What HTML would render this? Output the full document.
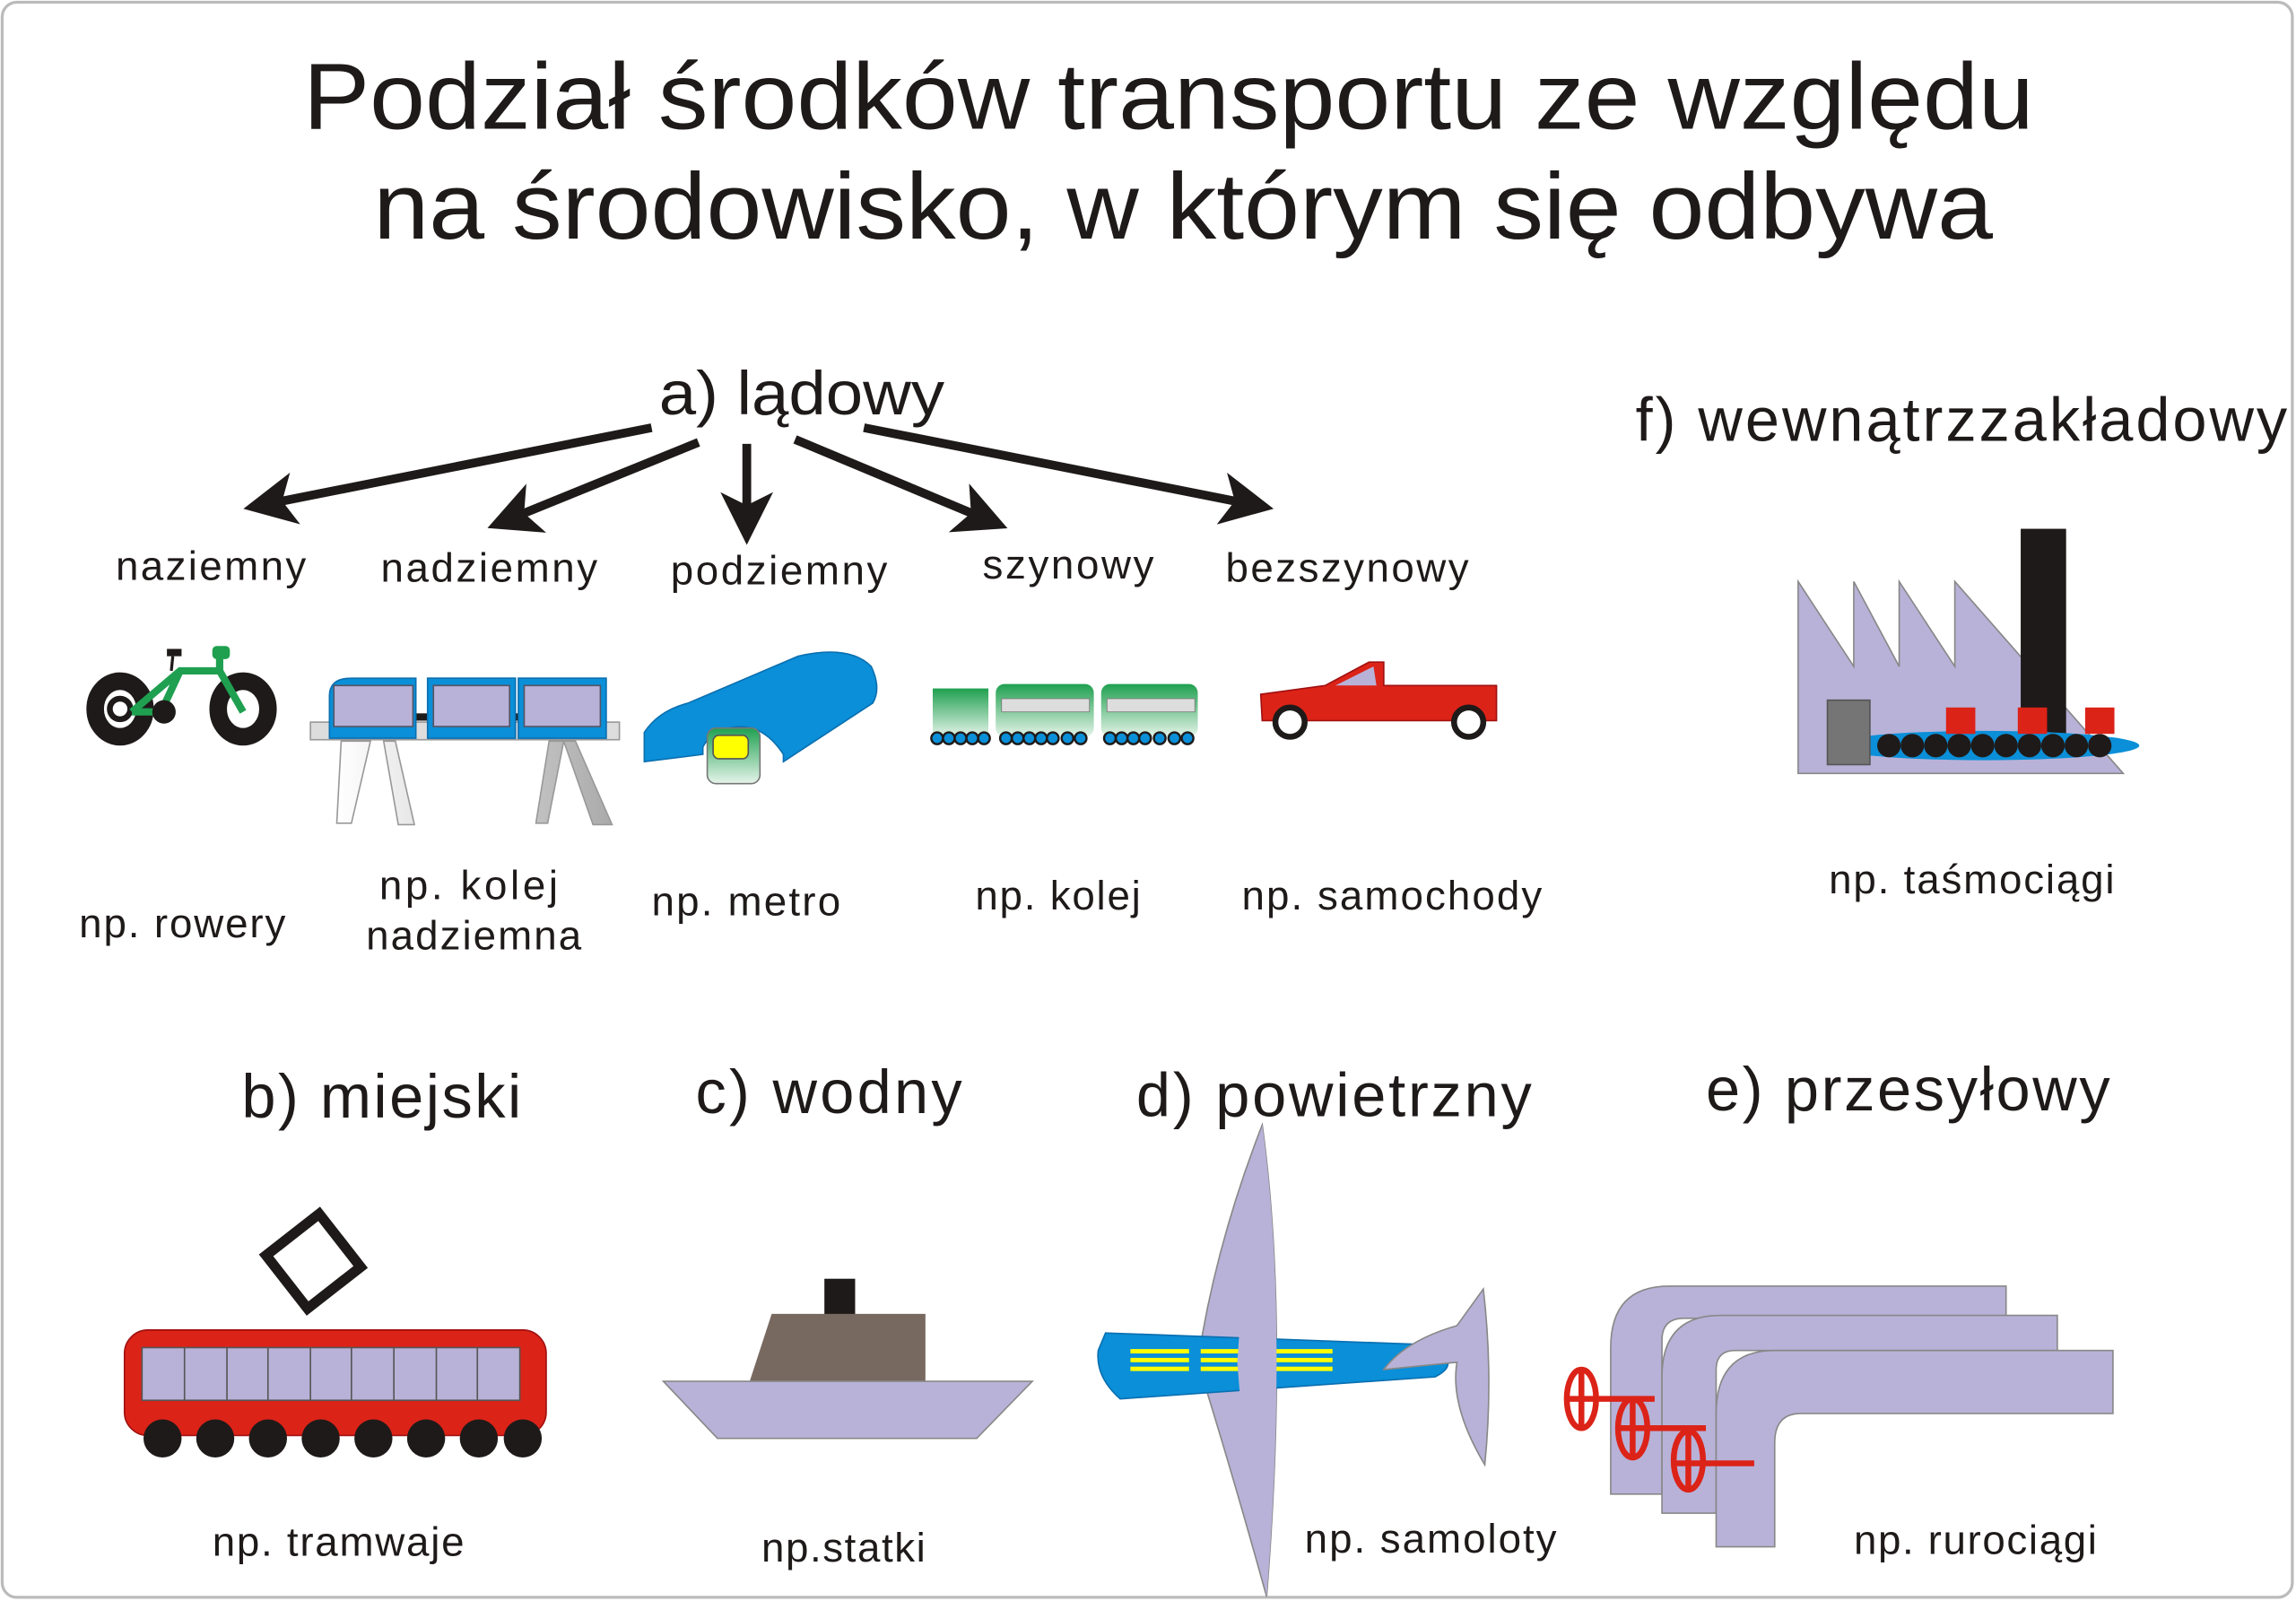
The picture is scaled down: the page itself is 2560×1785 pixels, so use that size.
<!DOCTYPE html>
<html><head><meta charset="utf-8"><style>
html,body{margin:0;padding:0;background:#fff;}
svg{display:block;}
text{font-family:"Liberation Sans",sans-serif;fill:#1e1a19;}
</style></head><body>
<svg width="2560" height="1785" viewBox="0 0 1568 1093" preserveAspectRatio="none" xmlns="http://www.w3.org/2000/svg">
<defs>
<marker id="ah" markerWidth="6" markerHeight="6" refX="4" refY="3" orient="auto" markerUnits="strokeWidth">
<path d="M0,0 L6,3 L0,6 L1.5,3 z" fill="#1e1a19"/></marker>
<linearGradient id="gr" x1="0" y1="0" x2="0" y2="1"><stop offset="0" stop-color="#1fa050"/><stop offset="1" stop-color="#e6f4ea"/></linearGradient>
<linearGradient id="leg" x1="0" y1="0" x2="1" y2="0"><stop offset="0" stop-color="#fff"/><stop offset="1" stop-color="#aaa"/></linearGradient>
</defs>
<rect x="1.5" y="1.5" width="1564" height="1089" rx="10" fill="#fff" stroke="#bbb" stroke-width="2"/>
<text x="798" y="88" font-size="64" text-anchor="middle" textLength="1182" lengthAdjust="spacingAndGlyphs">Podział środków transportu ze względu</text>
<text x="808" y="163" font-size="64" text-anchor="middle" textLength="1106" lengthAdjust="spacingAndGlyphs">na środowisko, w którym się odbywa</text>

<text x="450" y="283" font-size="42" textLength="195" lengthAdjust="spacingAndGlyphs">a) lądowy</text>
<g stroke="#1e1a19" stroke-width="6" marker-end="url(#ah)">
<line x1="445" y1="292" x2="178" y2="345"/>
<line x1="477" y1="302" x2="344" y2="356"/>
<line x1="510" y1="303" x2="510" y2="360"/>
<line x1="543" y1="300" x2="677" y2="356"/>
<line x1="590" y1="292" x2="858" y2="345"/>
</g>
<g font-size="28" lengthAdjust="spacingAndGlyphs">
<text x="79" y="396" textLength="130">naziemny</text>
<text x="260" y="397" textLength="148">nadziemny</text>
<text x="458" y="399" textLength="148">podziemny</text>
<text x="671" y="395" textLength="117">szynowy</text>
<text x="837" y="397" textLength="166">bezszynowy</text>
<text x="54" y="640" textLength="141">np. rowery</text>
<text x="259" y="614" textLength="122">np.  kolej</text>
<text x="250" y="648" textLength="147">nadziemna</text>
<text x="445" y="625" textLength="129">np. metro</text>
<text x="666" y="621" textLength="113">np. kolej</text>
<text x="848" y="621" textLength="205">np. samochody</text>
<text x="1249" y="610" textLength="195">np. taśmociągi</text>
<text x="145" y="1062" textLength="172">np. tramwaje</text>
<text x="520" y="1066" textLength="112">np.statki</text>
<text x="891" y="1060" textLength="172">np. samoloty</text>
<text x="1266" y="1061" textLength="166">np. rurociągi</text>
</g>
<g font-size="42" lengthAdjust="spacingAndGlyphs">
<text x="1117" y="301" textLength="445">f) wewnątrzzakładowy</text>
<text x="165" y="763" textLength="191">b) miejski</text>
<text x="475" y="760" textLength="182">c) wodny</text>
<text x="776" y="762" textLength="270">d) powietrzny</text>
<text x="1165" y="758" textLength="276">e) przesyłowy</text>
</g>

<!-- bicycle -->
<g>
<ellipse cx="82" cy="484" rx="17" ry="19" fill="none" stroke="#1e1a19" stroke-width="12"/>
<ellipse cx="166" cy="484" rx="17" ry="19" fill="none" stroke="#1e1a19" stroke-width="12"/>
<circle cx="82" cy="484" r="7" fill="none" stroke="#1e1a19" stroke-width="4"/>
<path d="M90,486 L123,458 L150,458 L166,486 M123,458 L110,486 L90,486 M150,458 L150,447" stroke="#1fa050" stroke-width="5" fill="none"/>
<rect x="145" y="441" width="12" height="9" rx="3" fill="#1fa050"/>
<rect x="114" y="443" width="10" height="5" fill="#1e1a19"/>
<line x1="118" y1="448" x2="117" y2="458" stroke="#1e1a19" stroke-width="2"/>
<circle cx="112" cy="486" r="8" fill="#1e1a19"/>
</g>
<!-- elevated train -->
<g>
<path d="M233,506 L253,506 L240,562 L230,562 Z M262,506 L270,506 L283,563 L272,563 Z M375,506 L385,506 L374,562 L366,562 Z M385,506 L393,506 L418,563 L405,563 Z" fill="url(#leg)" stroke="#999" stroke-width="1"/>
<rect x="212" y="493" width="211" height="12" fill="#ddd" stroke="#999"/>
<rect x="284" y="487" width="75" height="5" fill="#1e1a19"/>
<path d="M225,504 L225,475 Q225,463 240,463 L284,463 L284,504 Z" fill="#0a8fd8" stroke="#0a6fb0"/>
<rect x="228" y="468" width="54" height="28" fill="#b8b2d8" stroke="#556"/>
<rect x="292" y="463" width="60" height="41" fill="#0a8fd8" stroke="#0a6fb0"/>
<rect x="296" y="468" width="52" height="28" fill="#b8b2d8" stroke="#556"/>
<rect x="354" y="463" width="60" height="41" fill="#0a8fd8" stroke="#0a6fb0"/>
<rect x="358" y="468" width="52" height="28" fill="#b8b2d8" stroke="#556"/>
</g>
<!-- tunnel -->
<g>
<path d="M440,520 L440,500 Q450,485 470,480 L545,448 Q580,440 595,455 Q602,470 596,480 L535,520 L535,515 Q520,492 498,497 Q485,500 480,510 L480,515 Z" fill="#0a8fd8" stroke="#0a6fb0"/>
<rect x="483" y="497" width="36" height="38" rx="6" fill="url(#gr)" stroke="#777"/>
<rect x="487" y="502" width="24" height="16" rx="4" fill="#ff0" stroke="#555"/>
</g>
<!-- train -->
<g>
<rect x="637" y="470" width="38" height="33" fill="url(#gr)"/>
<rect x="680" y="467" width="67" height="36" rx="6" fill="url(#gr)"/>
<rect x="752" y="467" width="66" height="36" rx="6" fill="url(#gr)"/>
<g fill="#ddd" stroke="#777" stroke-width="0.5">
<rect x="684" y="477" width="60" height="9"/><rect x="756" y="477" width="60" height="9"/></g>
<g fill="#0a8fd8" stroke="#1e1a19" stroke-width="1.5">
<circle cx="640" cy="504" r="4"/><circle cx="648" cy="504" r="4"/><circle cx="656" cy="504" r="4"/><circle cx="664" cy="504" r="4"/><circle cx="672" cy="504" r="4"/>
<circle cx="687" cy="504" r="4"/><circle cx="695" cy="504" r="4"/><circle cx="703" cy="504" r="4"/><circle cx="711" cy="504" r="4"/><circle cx="719" cy="504" r="4"/><circle cx="729" cy="504" r="4"/><circle cx="738" cy="504" r="4"/>
<circle cx="758" cy="504" r="4"/><circle cx="766" cy="504" r="4"/><circle cx="774" cy="504" r="4"/><circle cx="782" cy="504" r="4"/><circle cx="792" cy="504" r="4"/><circle cx="802" cy="504" r="4"/><circle cx="811" cy="504" r="4"/></g>
</g>
<!-- car -->
<g>
<path d="M861,474 L905,468 L935,452 L945,452 L945,468 L1022,468 L1022,492 L862,492 Z" fill="#dc2318" stroke="#a01010"/>
<path d="M912,468 L938,455 L940,468 Z" fill="#b8b2d8"/>
<circle cx="881" cy="493" r="10" fill="#fff" stroke="#1e1a19" stroke-width="4"/>
<circle cx="1003" cy="493" r="10" fill="#fff" stroke="#1e1a19" stroke-width="4"/>
</g>
<!-- factory -->
<g>
<path d="M1228,397 L1266,455 L1266,397 L1297,455 L1297,397 L1335,455 L1335,397 L1450,528 L1228,528 Z" fill="#b8b2d8" stroke="#888"/>
<rect x="1380" y="361" width="31" height="155" fill="#1e1a19"/>
<ellipse cx="1355" cy="509" rx="106" ry="10" fill="#0a8fd8"/>
<g fill="#1e1a19">
<circle cx="1290" cy="509" r="8"/><circle cx="1306" cy="509" r="8"/><circle cx="1322" cy="509" r="8"/><circle cx="1338" cy="509" r="8"/><circle cx="1354" cy="509" r="8"/><circle cx="1370" cy="509" r="8"/><circle cx="1386" cy="509" r="8"/><circle cx="1402" cy="509" r="8"/><circle cx="1418" cy="509" r="8"/><circle cx="1434" cy="509" r="8"/></g>
<rect x="1248" y="478" width="29" height="44" fill="#757575" stroke="#555"/>
<rect x="1329" y="483" width="20" height="18" fill="#dc2318"/>
<rect x="1378" y="483" width="20" height="18" fill="#dc2318"/>
<rect x="1424" y="483" width="20" height="18" fill="#dc2318"/>
</g>
<!-- tram -->
<g>
<rect x="191" y="838" width="46" height="46" transform="rotate(-38 214 861)" fill="none" stroke="#1e1a19" stroke-width="7"/>
<rect x="85" y="908" width="288" height="72" rx="16" fill="#dc2318" stroke="#a01010"/>
<rect x="97" y="920" width="258" height="36" fill="#b8b2d8" stroke="#555"/>
<g stroke="#555"><line x1="126" y1="920" x2="126" y2="956"/><line x1="155" y1="920" x2="155" y2="956"/><line x1="183" y1="920" x2="183" y2="956"/><line x1="212" y1="920" x2="212" y2="956"/><line x1="240" y1="920" x2="240" y2="956"/><line x1="269" y1="920" x2="269" y2="956"/><line x1="298" y1="920" x2="298" y2="956"/><line x1="326" y1="920" x2="326" y2="956"/></g>
<g fill="#1e1a19"><circle cx="111" cy="982" r="13"/><circle cx="147" cy="982" r="13"/><circle cx="183" cy="982" r="13"/><circle cx="219" cy="982" r="13"/><circle cx="255" cy="982" r="13"/><circle cx="291" cy="982" r="13"/><circle cx="327" cy="982" r="13"/><circle cx="357" cy="982" r="13"/></g>
</g>
<!-- ship -->
<g>
<rect x="563" y="873" width="21" height="25" fill="#1e1a19"/>
<path d="M527,897 L632,897 L632,943 L512,943 Z" fill="#786960"/>
<path d="M453,943 L705,943 L667,982 L490,982 Z" fill="#b8b2d8" stroke="#888"/>
</g>
<!-- plane -->
<g>
<path d="M862,768 Q880,900 865,1090 Q840,1000 818,930 Q830,850 862,768 Z" fill="#b8b2d8" stroke="#888"/>
<path d="M755,910 L975,918 Q1000,930 980,940 L765,955 Q748,940 750,922 Z" fill="#0a8fd8" stroke="#0a6fb0"/>
<g fill="#ff0">
<rect x="772" y="921" width="40" height="3"/><rect x="772" y="927" width="40" height="3"/><rect x="772" y="933" width="40" height="3"/>
<rect x="820" y="921" width="90" height="3"/><rect x="820" y="927" width="90" height="3"/><rect x="820" y="933" width="90" height="3"/></g>
<path d="M862,768 Q880,900 865,1090 Q850,1000 845,930 Q850,850 862,768 Z" fill="#b8b2d8"/>
<path d="M1013,880 Q1020,940 1014,1000 Q990,960 995,930 L945,935 Q960,915 995,905 Z" fill="#b8b2d8" stroke="#888"/>
</g>
<!-- pipes -->
<g fill="#b8b2d8" stroke="#888">
<path d="M1100,1020 L1100,920 Q1100,878 1140,878 L1370,878 L1370,900 L1150,900 Q1135,900 1135,915 L1135,1020 Z"/>
<path d="M1135,1033 L1135,940 Q1135,898 1175,898 L1405,898 L1405,922 L1185,922 Q1172,922 1172,935 L1172,1033 Z"/>
<path d="M1172,1056 L1172,965 Q1172,922 1212,922 L1443,922 L1443,965 L1230,965 Q1212,965 1212,985 L1212,1056 Z"/>
</g>
<g stroke="#dc2318" stroke-width="4" fill="none">
<ellipse cx="1080" cy="955" rx="10" ry="20"/><line x1="1080" y1="935" x2="1080" y2="975"/><line x1="1070" y1="955" x2="1130" y2="955"/>
<ellipse cx="1115" cy="975" rx="10" ry="20"/><line x1="1115" y1="955" x2="1115" y2="995"/><line x1="1105" y1="975" x2="1165" y2="975"/>
<ellipse cx="1153" cy="997" rx="10" ry="20"/><line x1="1153" y1="977" x2="1153" y2="1017"/><line x1="1143" y1="999" x2="1198" y2="999"/>
</g>
</svg>
</body></html>
